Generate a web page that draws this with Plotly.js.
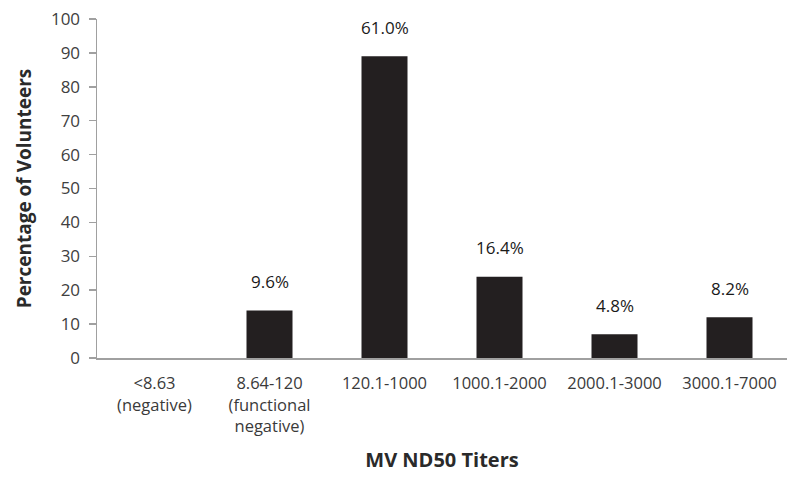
<!DOCTYPE html>
<html>
<head>
<meta charset="utf-8">
<script src="https://cdn.plot.ly/plotly-3.0.1.min.js"></script>
<style>html,body{margin:0;padding:0;background:#fff;}#chart{width:800px;height:478px;}</style>
</head>
<body>
<div id="chart"></div>
<script>
var categories = ["<8.63<br>(negative)", "8.64-120<br>(functional<br>negative)", "120.1-1000", "1000.1-2000", "2000.1-3000", "3000.1-7000"];
var values = [0, 14, 89, 24, 7, 12];
var labels = ["", "9.6%", "61.0%", "16.4%", "4.8%", "8.2%"];
var yTicks = [0, 10, 20, 30, 40, 50, 60, 70, 80, 90, 100];

var font = "Open Sans, Liberation Sans, sans-serif";
var annotations = [];
for (var i = 0; i < categories.length; i++) {
  if (!labels[i]) continue;
  annotations.push({
    x: categories[i], y: values[i], xref: "x", yref: "y",
    text: labels[i], showarrow: false, yshift: 29,
    font: {family: font, size: 17, color: "#1a1a1a"}
  });
}

var trace = {
  type: "bar", x: categories, y: values,
  marker: {color: "#231f20"}, hoverinfo: "none"
};

var layout = {
  width: 800, height: 478,
  margin: {l: 97, r: 13, t: 19, b: 120},
  paper_bgcolor: "#fff", plot_bgcolor: "#fff",
  bargap: 0.6, showlegend: false,
  font: {family: font, color: "#404040"},
  xaxis: {
    type: "category", showgrid: false, zeroline: false,
    showline: true, linecolor: "#a0a0a0", linewidth: 1.5,
    ticks: "", ticklabelstandoff: 10,
    tickfont: {family: font, size: 16.5, color: "#3a3a3a"},
    title: {text: "<b>MV ND50 Titers</b>", font: {family: font, size: 20, color: "#2a2a2a"}, standoff: 17}
  },
  yaxis: {
    range: [0, 100], tickvals: yTicks, showgrid: false, zeroline: false,
    showline: true, linecolor: "#a0a0a0", linewidth: 1.5,
    ticks: "outside", ticklen: 7, tickcolor: "#a0a0a0", tickwidth: 1.5,
    ticklabelstandoff: 5,
    tickfont: {family: font, size: 17, color: "#404040"},
    title: {text: "<b>Percentage of Volunteers</b>", font: {family: font, size: 19, color: "#2a2a2a"}, standoff: 14}
  },
  annotations: annotations
};

Plotly.newPlot("chart", [trace], layout, {displayModeBar: false, staticPlot: true});
</script>
</body>
</html>
